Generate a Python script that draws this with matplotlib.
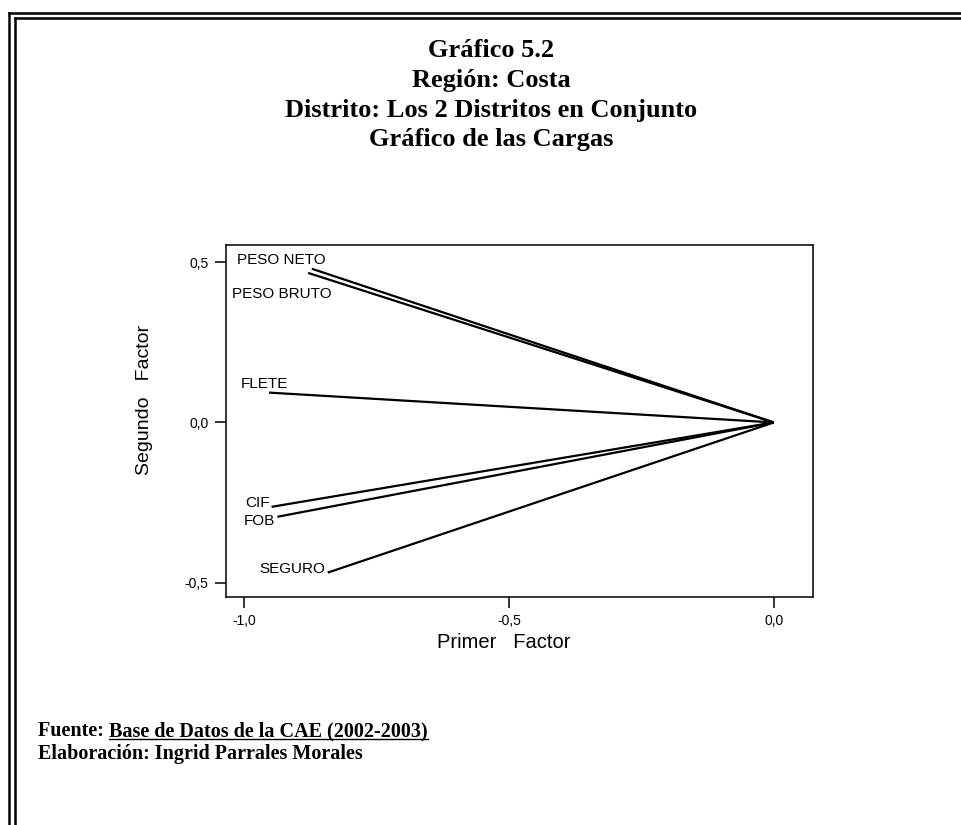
import matplotlib
matplotlib.use("Agg")
import matplotlib.pyplot as plt
from matplotlib.lines import Line2D

# Factor loadings (first factor, second factor) for each variable
variables = ["PESO NETO", "PESO BRUTO", "FLETE", "CIF", "FOB", "SEGURO"]
factor1 = [-0.872, -0.879, -0.953, -0.948, -0.937, -0.842]
factor2 = [0.479, 0.466, 0.093, -0.263, -0.294, -0.468]

# Label offsets (pixels) relative to each loading end point
label_dx = [-31, -26, -4, -14, -18, -35]
label_dy = [5, -25, 5, 0, -8, 0]

xticks = [-1.0, -0.5, 0.0]
yticks = [-0.5, 0.0, 0.5]
xtick_labels = ["-1,0", "-0,5", "0,0"]
ytick_labels = ["-0,5", "0,0", "0,5"]

title_lines = [
    "Gráfico 5.2",
    "Región: Costa",
    "Distrito: Los 2 Distritos en Conjunto",
    "Gráfico de las Cargas",
]

W, H = 961, 825
fig = plt.figure(figsize=(W / 100, H / 100), dpi=100)
fig.patch.set_facecolor("white")

sans = ["Liberation Sans", "DejaVu Sans"]
serif = ["Liberation Serif", "DejaVu Serif"]

# Double page frame (continues past the right and bottom edges)
for vx, hy in ((9.2, 13.0), (14.5, 18.0)):
    fig.add_artist(Line2D([vx / W, vx / W], [0, 1 - hy / H], transform=fig.transFigure,
                          color="black", lw=1.8, solid_capstyle="projecting"))
    fig.add_artist(Line2D([vx / W, 1], [1 - hy / H, 1 - hy / H], transform=fig.transFigure,
                          color="black", lw=1.8, solid_capstyle="projecting"))

# Title block
title_base = [57, 87, 117, 146]
for txt, yb in zip(title_lines, title_base):
    fig.text(491.5 / W, 1 - yb / H, txt, ha="center", va="baseline",
             family=serif, fontweight="bold", fontsize=19)

# Loadings plot
ax = fig.add_axes([226 / W, 1 - 597 / H, (813 - 226) / W, (597 - 245) / H])
for x, y in zip(factor1, factor2):
    ax.plot([0.0, x], [0.0, y], color="black", lw=1.6, solid_capstyle="butt")
for name, x, y, dx, dy in zip(variables, factor1, factor2, label_dx, label_dy):
    ax.annotate(name, xy=(x, y), xytext=(dx, dy), textcoords="offset pixels",
                ha="center", va="baseline", family=sans, fontsize=11)

ax.set_xlim(-1.034, 0.074)
ax.set_ylim(-0.544, 0.553)
ax.set_xticks(xticks)
ax.set_xticklabels(xtick_labels, family=sans, fontsize=10)
ax.set_yticks(yticks)
ax.set_yticklabels(ytick_labels, family=sans, fontsize=10)
ax.tick_params(direction="out", length=8, width=1.1, pad=4.5)
for sp in ax.spines.values():
    sp.set_linewidth(1.1)

ax.set_xlabel("Primer   Factor", family=sans, fontsize=14.5)
ax.xaxis.set_label_coords((504 - 226) / (813 - 226), (597 - 633) / (597 - 245))
ax.set_ylabel("Segundo   Factor", family=sans, fontsize=14)
ax.yaxis.set_label_coords((153 - 226) / (813 - 226), (597 - 400) / (597 - 245))

# Source notes
fig.canvas.draw()
renderer = fig.canvas.get_renderer()
note_x = 38
note_size = 14.5
y1 = 1 - 736 / H
t1 = fig.text(note_x / W, y1, "Fuente: ", ha="left", va="baseline",
              family=serif, fontweight="bold", fontsize=note_size)
bb = t1.get_window_extent(renderer)
t2 = fig.text(bb.x1 / W, y1, "Base de Datos de la CAE (2002-2003)", ha="left",
              va="baseline", family=serif, fontweight="bold", fontsize=note_size)
bb2 = t2.get_window_extent(renderer)
uy = y1 - 2.5 / H
fig.add_artist(Line2D([bb2.x0 / W, bb2.x1 / W], [uy, uy], transform=fig.transFigure,
                      color="black", lw=1.0))
fig.text(note_x / W, 1 - 759 / H, "Elaboración: Ingrid Parrales Morales", ha="left",
         va="baseline", family=serif, fontweight="bold", fontsize=note_size)

fig.savefig("out.png", dpi=100, facecolor="white")
